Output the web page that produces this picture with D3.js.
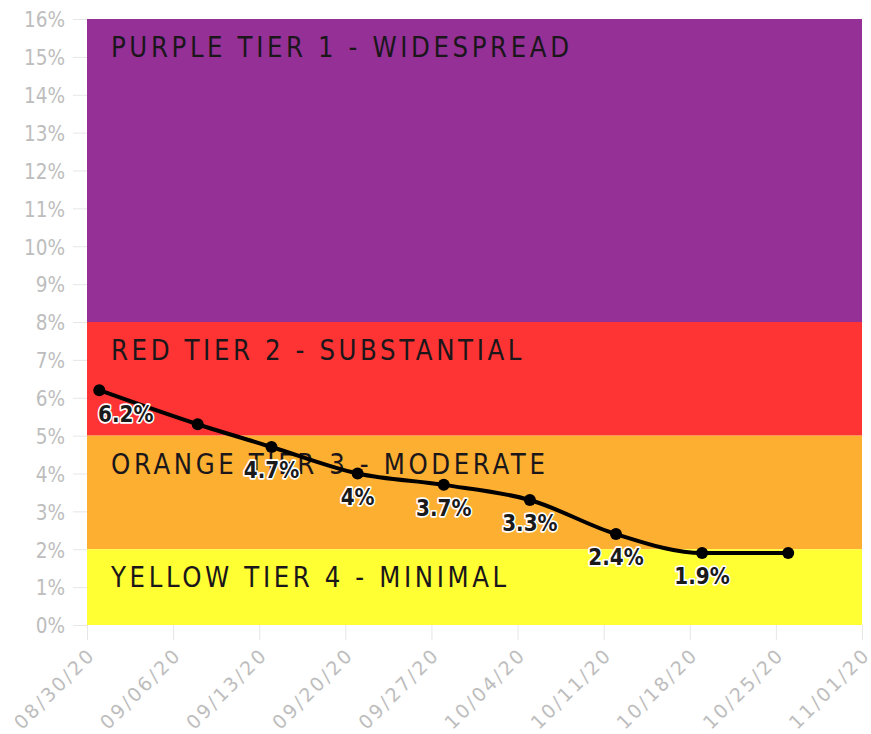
<!DOCTYPE html>
<html>
<head>
<meta charset="utf-8">
<script src="https://cdn.jsdelivr.net/npm/d3@7"></script>
<style>
	html, body { margin: 0; padding: 0; background: #fff; }
	svg { display: block; font-family: 'DejaVu Sans', sans-serif; }
</style>
</head>
<body>
<div id="chart"></div>
<script>
// Weekly positivity rate (%)
const dates = ['2020-08-31', '2020-09-08', '2020-09-14', '2020-09-21', '2020-09-28', '2020-10-05', '2020-10-12', '2020-10-19', '2020-10-26'];
const rates = [6.2, 5.3, 4.7, 4.0, 3.7, 3.3, 2.4, 1.9, 1.9];
const pointLabels = ['6.2%', null, '4.7%', '4%', '3.7%', '3.3%', '2.4%', '1.9%', null];

// Tier bands
const tierNames = ['PURPLE TIER 1 - WIDESPREAD', 'RED TIER 2 - SUBSTANTIAL', 'ORANGE TIER 3 - MODERATE', 'YELLOW TIER 4 - MINIMAL'];
const tierLow = [8, 5, 2, 0];
const tierHigh = [16, 8, 5, 2];
const tierColors = ['#953097', '#fe3333', '#fdaf31', '#ffff33'];

const yTicks = d3.range(0, 17, 1);

const width = 871;
const height = 734;
const marginTop = 19;
const marginRight = 9;
const marginBottom = 109;
const marginLeft = 87;

const parse = d3.timeParse('%Y-%m-%d');
const data = dates.map((d, i) => ({ date: parse(d), value: rates[i], label: pointLabels[i] }));

const x = d3.scaleTime()
	.domain([parse('2020-08-30'), parse('2020-11-01')])
	.range([marginLeft, width - marginRight]);

const y = d3.scaleLinear()
	.domain([0, 16])
	.range([height - marginBottom, marginTop]);

const svg = d3.select('#chart')
	.append('svg')
	.attr('width', width)
	.attr('height', height)
	.attr('viewBox', [0, 0, width, height]);

// y axis: ticks, grid stubs and labels
const yAxis = svg.append('g')
	.attr('transform', 'translate(' + marginLeft + ',0)')
	.call(d3.axisLeft(y).tickValues(yTicks).tickSize(14).tickPadding(8).tickFormat((d) => d + '%'));
yAxis.select('.domain').remove();
yAxis.selectAll('line').attr('stroke', '#e6e6e6');
yAxis.selectAll('text')
	.attr('fill', '#bdbdbd')
	.attr('dy', '0.36em')
	.attr('transform', 'scale(1,1.18)')
	.style('font-size', '18.5px')
	.style('font-family', "'DejaVu Sans', sans-serif");

// x axis
const xAxis = svg.append('g')
	.attr('transform', 'translate(0,' + (height - marginBottom) + ')')
	.call(d3.axisBottom(x).ticks(d3.timeWeek.every(1)).tickSize(15).tickFormat(d3.timeFormat('%m/%d/%y')));
xAxis.select('.domain').remove();
xAxis.selectAll('line').attr('stroke', '#e6e6e6');
xAxis.selectAll('text')
	.attr('fill', '#bdbdbd')
	.attr('text-anchor', 'end')
	.attr('dy', null)
	.attr('y', 0)
	.attr('transform', 'translate(9,31) rotate(-45)')
	.style('font-size', '19px')
	.style('letter-spacing', '2.5px')
	.style('font-family', "'DejaVu Sans', sans-serif");

// Tier bands
const tiers = tierNames.map((name, i) => ({ name: name, low: tierLow[i], high: tierHigh[i], color: tierColors[i] }));

svg.append('g')
	.selectAll('rect')
	.data(tiers)
	.enter()
	.append('rect')
	.attr('x', x.range()[0])
	.attr('width', x.range()[1] - x.range()[0])
	.attr('y', (d) => y(d.high))
	.attr('height', (d) => y(d.low) - y(d.high))
	.attr('fill', (d) => d.color);

svg.append('g')
	.selectAll('text')
	.data(tiers)
	.enter()
	.append('text')
	.attr('transform', (d) => 'translate(' + (marginLeft + 24) + ',' + (y(d.high) + 30) + ') scale(1,1.15)')
	.text((d) => d.name)
	.style('dominant-baseline', 'middle')
	.style('font-size', '24.5px')
	.style('letter-spacing', '3.6px')
	.attr('fill', '#1a161a');

// Line
const line = d3.line()
	.x((d) => x(d.date))
	.y((d) => y(d.value))
	.curve(d3.curveMonotoneX);

svg.append('path')
	.datum(data)
	.attr('d', line)
	.attr('fill', 'none')
	.attr('stroke', '#000')
	.attr('stroke-width', 4);

svg.append('g')
	.selectAll('circle')
	.data(data)
	.enter()
	.append('circle')
	.attr('cx', (d) => x(d.date))
	.attr('cy', (d) => y(d.value))
	.attr('r', 6)
	.attr('fill', '#000');

// Point labels (kept inside the plot on the left)
const labels = svg.append('g')
	.selectAll('text')
	.data(data.filter((d) => d.label))
	.enter()
	.append('text')
	.text((d) => d.label)
	.style('dominant-baseline', 'middle')
	.style('text-anchor', 'middle')
	.style('font-weight', 'bold')
	.style('font-size', '20px')
	.style('paint-order', 'stroke')
	.attr('stroke', '#fff')
	.attr('stroke-width', 3)
	.attr('stroke-linejoin', 'round')
	.attr('fill', '#1a1a1a');

labels.attr('transform', function (d) {
	const w = this.getComputedTextLength();
	const lx = Math.max(x(d.date), marginLeft + 11 + w / 2);
	return 'translate(' + lx + ',' + (y(d.value) + 25) + ') scale(1,1.12)';
});
</script>
</body>
</html>
